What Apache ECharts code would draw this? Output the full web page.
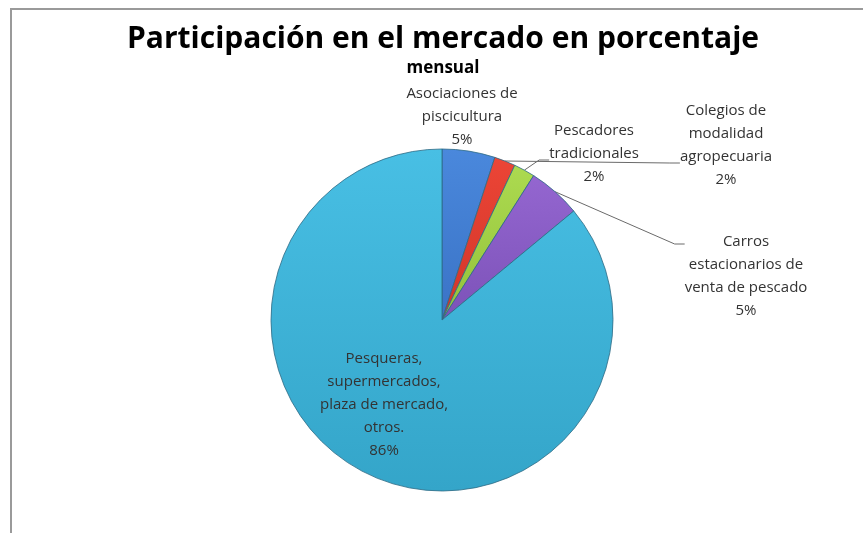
<!DOCTYPE html>
<html>
<head>
<meta charset="utf-8">
<script src="https://cdn.jsdelivr.net/npm/echarts@6/dist/echarts.min.js"></script>
<style>
  html, body { margin: 0; padding: 0; background: #ffffff; }
  #frame { position: absolute; left: 10px; top: 8px; width: 853px; height: 525px;
           border-left: 2px solid #9a9a9a; border-top: 2px solid #9a9a9a; box-sizing: border-box; }
  #chart { position: absolute; left: 0; top: 0; width: 863px; height: 533px; }
</style>
</head>
<body>
<div id="frame"></div>
<div id="chart"></div>
<script>
// Monthly market share by sales channel (percent)
const categories = [
  'Asociaciones de\npiscicultura',
  'Colegios de\nmodalidad\nagropecuaria',
  'Pescadores\ntradicionales',
  'Carros\nestacionarios de\nventa de pescado',
  'Pesqueras,\nsupermercados,\nplaza de mercado,\notros.'
];
const shares = [5, 2, 2, 5, 86];
const sliceColors = [
  ['#4a88dc', '#3a73c6'],
  ['#ec4536', '#d0352a'],
  ['#acda50', '#93c23a'],
  ['#9466d0', '#7c52b8'],
  ['#48bfe4', '#34a5c9']
];
// Label anchor (centre of each text block); elbowY is where a leader line meets the text
const labelSpots = [
  { x: 462, y: 117, elbowY: null },
  { x: 726, y: 145, elbowY: 163 },
  { x: 594, y: 154, elbowY: 160 },
  { x: 746, y: 276, elbowY: 244 },
  { x: 384, y: 405, elbowY: null }
];

const chart = echarts.init(document.getElementById('chart'));

const data = categories.map((name, i) => ({
  name: name,
  value: shares[i],
  itemStyle: {
    color: {
      type: 'linear', x: 0, y: 0, x2: 0, y2: 1,
      colorStops: [
        { offset: 0, color: sliceColors[i][0] },
        { offset: 1, color: sliceColors[i][1] }
      ]
    }
  },
  labelLine: { show: labelSpots[i].elbowY !== null }
}));

chart.setOption({
  animation: false,
  title: {
    text: 'Participación en el mercado en porcentaje',
    subtext: 'mensual',
    left: 438,
    top: 19,
    textAlign: 'center',
    itemGap: 6,
    textStyle: {
      fontFamily: 'Open Sans',
      fontWeight: 'bold',
      fontSize: 30,
      color: '#000000'
    },
    subtextStyle: {
      fontFamily: 'Open Sans',
      fontWeight: 'bold',
      fontSize: 17,
      color: '#000000'
    }
  },
  series: [{
    type: 'pie',
    center: [442, 320],
    radius: 171,
    startAngle: 90,
    clockwise: true,
    data: data,
    itemStyle: { borderColor: '#2c6a84', borderWidth: 0.8 },
    label: {
      show: true,
      formatter: p => p.name + '\n' + p.value + '%',
      fontFamily: 'Open Sans',
      fontSize: 15,
      lineHeight: 23,
      color: '#333333',
      align: 'center'
    },
    labelLine: {
      show: true,
      lineStyle: { color: '#6a6a6a', width: 1 }
    },
    labelLayout: params => {
      const s = labelSpots[params.dataIndex];
      const layout = {
        x: s.x,
        y: s.y,
        align: 'center',
        verticalAlign: 'middle',
        moveOverlap: false,
        hideOverlap: false
      };
      const pts = params.labelLinePoints;
      if (s.elbowY !== null && pts) {
        const left = s.x - params.labelRect.width / 2;
        const start = pts[0];
        layout.labelLinePoints = [start, [left - 10, s.elbowY], [left, s.elbowY]];
      }
      return layout;
    }
  }]
});
</script>
</body>
</html>
